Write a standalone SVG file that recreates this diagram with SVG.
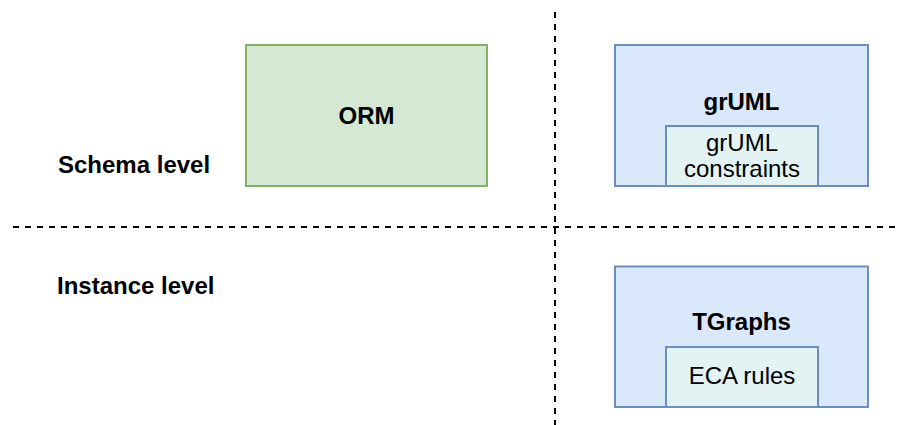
<svg xmlns="http://www.w3.org/2000/svg" width="903" height="425" viewBox="0 0 903 425">
  <style>
    .bg { fill: #ffffff; }
    .green { fill: #d5e8d4; stroke: #82b366; stroke-width: 2; }
    .blue { fill: #dae8fc; stroke: #6c8ebf; stroke-width: 2; }
    .inner { fill: #e3f3f3; stroke: #6c8ebf; stroke-width: 2; }
    .divider { stroke: #000000; stroke-width: 2; stroke-dasharray: 6 6; fill: none; }
    text { font-family: "Liberation Sans", Arial, Helvetica, sans-serif; font-size: 24px; fill: #000000; }
    .bold { font-weight: bold; }
    .mid { text-anchor: middle; }
  </style>
  <rect class="bg" x="0" y="0" width="903" height="425"/>

  <!-- level dividers -->
  <g id="connectors">
    <line class="divider" x1="13" y1="227" x2="899" y2="227"/>
    <line class="divider" x1="555" y1="12" x2="555" y2="425"/>
  </g>

  <!-- row labels -->
  <g id="schema-level">
    <text class="bold" x="58" y="173">Schema level</text>
  </g>
  <g id="instance-level">
    <text class="bold" x="57" y="294">Instance level</text>
  </g>

  <!-- ORM -->
  <g id="orm">
    <rect class="green" x="246" y="45" width="241" height="141"/>
    <text class="bold mid" x="366.5" y="124">ORM</text>
  </g>

  <!-- grUML with its constraints -->
  <g id="gruml">
    <rect class="blue" x="615" y="45" width="253" height="141"/>
    <text class="bold mid" x="741.5" y="110">grUML</text>
  </g>
  <g id="gruml-constraints">
    <rect class="inner" x="666" y="126" width="152" height="60"/>
    <text class="mid" x="742" y="150.5">grUML</text>
    <text class="mid" x="742" y="176.5">constraints</text>
  </g>

  <!-- TGraphs with ECA rules -->
  <g id="tgraphs">
    <rect class="blue" x="615" y="266.5" width="253" height="140.5"/>
    <text class="bold mid" x="741.5" y="329.5">TGraphs</text>
  </g>
  <g id="eca-rules">
    <rect class="inner" x="666" y="347" width="152" height="60"/>
    <text class="mid" x="742" y="384">ECA rules</text>
  </g>
</svg>
